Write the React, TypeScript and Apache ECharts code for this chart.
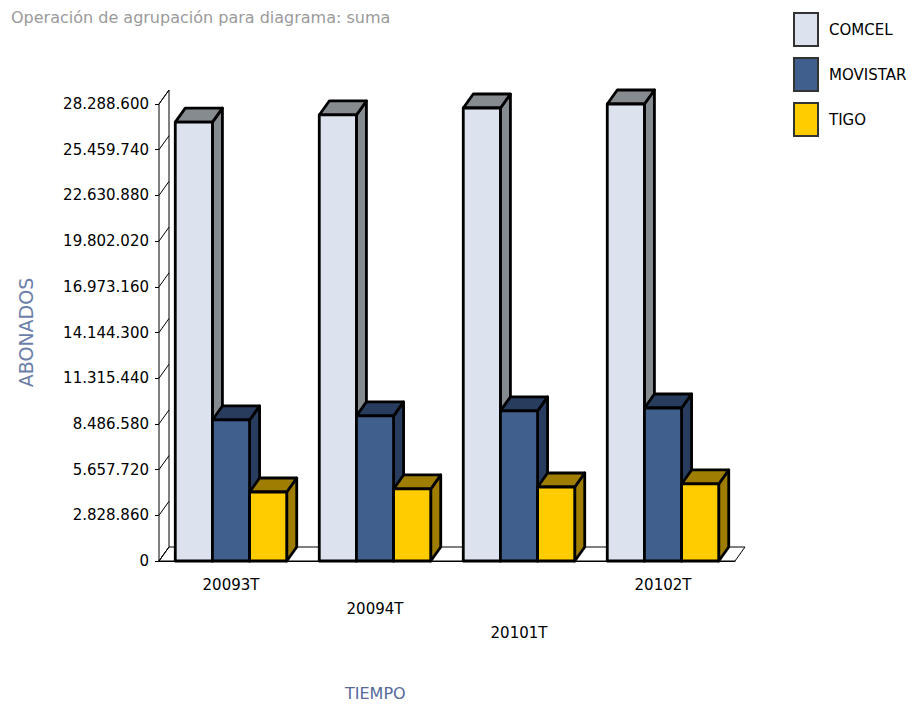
import React, { useEffect, useRef } from "react";
import * as echarts from "echarts";

// Quarterly subscriber totals per operator
const periods = ["20093T", "20094T", "20101T", "20102T"];
const comcel = [27170000, 27610000, 28040000, 28288600];
const movistar = [8730000, 8980000, 9290000, 9470000];
const tigo = [4270000, 4460000, 4580000, 4770000];

const seriesNames = ["COMCEL", "MOVISTAR", "TIGO"];
const frontColors = ["#dce3ee", "#405f8d", "#ffcc00"];
const shadeColors = ["#868b90", "#283d5e", "#9e7d00"];

const yTicks = [
  0, 2828860, 5657720, 8486580, 11315440, 14144300, 16973160, 19802020,
  22630880, 25459740, 28288600,
];
const yMax = 28288600;
const yStep = 2828860;

const FONT = "'DejaVu Sans', Verdana, sans-serif";
const DX = 10; // depth offset to the right
const DY = 14; // depth offset upwards
const BAR_RATIO = 0.258;

const thousands = (v: number) =>
  String(Math.round(v)).replace(/\B(?=(\d{3})+(?!\d))/g, ".");

const makeBarRenderer =
  (slot: number, front: string, shade: string) => (params: any, api: any) => {
    const ci = api.value(0);
    const v = api.value(1);
    const base = api.coord([ci, 0]);
    const top = api.coord([ci, v]);
    const band = api.size([1, 0])[0];
    const w = band * BAR_RATIO;
    const x0 = base[0] - 1.5 * w + slot * w;
    const x1 = x0 + w;
    const yb = base[1];
    const yt = top[1];
    const edge = { stroke: "#000", lineWidth: 2.8, lineJoin: "round" };
    return {
      type: "group",
      children: [
        {
          type: "polygon",
          shape: { points: [[x1, yt], [x1 + DX, yt - DY], [x1 + DX, yb - DY], [x1, yb]] },
          style: { fill: shade, ...edge },
        },
        {
          type: "polygon",
          shape: { points: [[x0, yt], [x1, yt], [x1 + DX, yt - DY], [x0 + DX, yt - DY]] },
          style: { fill: shade, ...edge },
        },
        {
          type: "rect",
          shape: { x: x0, y: yt, width: w, height: yb - yt },
          style: { fill: front, ...edge },
        },
      ],
    };
  };

const renderWalls = (params: any, api: any) => {
  const cs = params.coordSys;
  const yTop = cs.y;
  const yb = cs.y + cs.height;
  const xl = cs.x;
  const xr = cs.x + cs.width;
  const y = api.coord([0, api.value(1)])[1];
  const thin = { stroke: "#000", lineWidth: 1 };
  const children: any[] = [];
  if (params.dataIndex === 0) {
    children.push(
      {
        type: "polygon",
        shape: { points: [[xl, yb], [xl, yTop], [xl + DX, yTop - DY], [xl + DX, yb - DY]] },
        style: { fill: "#fff", ...thin },
      },
      {
        type: "polygon",
        shape: { points: [[xl, yb], [xr, yb], [xr + DX, yb - DY], [xl + DX, yb - DY]] },
        style: { fill: "#fff", ...thin },
      }
    );
  }
  children.push({
    type: "line",
    shape: { x1: xl, y1: y, x2: xl + DX, y2: y - DY },
    style: thin,
  });
  return { type: "group", children };
};

export default function App() {
  const ref = useRef<HTMLDivElement>(null);

  useEffect(() => {
    if (!ref.current) return;
    const chart = echarts.init(ref.current, undefined, { renderer: "svg" });
    const valueSets = [comcel, movistar, tigo];

    chart.setOption({
      animation: false,
      backgroundColor: "#fff",
      textStyle: { fontFamily: FONT },
      title: [
        {
          text: "Operación de agrupación para diagrama: suma",
          left: 11,
          top: 9,
          padding: 0,
          textStyle: { fontFamily: FONT, fontSize: 16, fontWeight: "normal", color: "#9a9a9a" },
        },
        {
          text: "TIEMPO",
          left: 345,
          top: 685,
          padding: 0,
          textStyle: { fontFamily: FONT, fontSize: 16, fontWeight: "normal", color: "#56699a" },
        },
      ],
      legend: {
        orient: "vertical",
        left: 793,
        top: 12,
        padding: 0,
        itemWidth: 24,
        itemHeight: 33,
        itemGap: 10,
        icon: "rect",
        textStyle: { fontFamily: FONT, fontSize: 15, color: "#000", padding: [0, 0, 0, 6] },
        data: seriesNames.map((name, i) => ({
          name,
          itemStyle: { color: frontColors[i], borderColor: "#333", borderWidth: 2 },
        })),
      },
      grid: { left: 159, right: 179, top: 104, bottom: 143 },
      xAxis: {
        type: "category",
        data: periods,
        axisLine: { lineStyle: { color: "#000", width: 1 } },
        axisTick: { alignWithLabel: true, length: 5, lineStyle: { color: "#000" } },
        axisLabel: {
          interval: 0,
          margin: 12,
          color: "#000",
          fontFamily: FONT,
          fontSize: 15,
          lineHeight: 24,
          verticalAlign: "top",
          formatter: (v: string, i: number) => "\n".repeat(i % 3) + v,
        },
      },
      yAxis: {
        type: "value",
        min: 0,
        max: yMax,
        interval: yStep,
        name: "ABONADOS",
        nameLocation: "middle",
        nameRotate: 90,
        nameGap: 124,
        nameTextStyle: { fontFamily: FONT, fontSize: 19, color: "#6b7ea8" },
        axisLine: { show: true, lineStyle: { color: "#000", width: 1 } },
        axisTick: { show: true, length: 4, lineStyle: { color: "#000" } },
        splitLine: { show: false },
        axisLabel: {
          margin: 10,
          color: "#000",
          fontFamily: FONT,
          fontSize: 15,
          formatter: (v: number) => thousands(v),
        },
      },
      series: [
        {
          name: "walls",
          type: "custom",
          silent: true,
          renderItem: renderWalls,
          encode: { x: 0, y: 1 },
          data: yTicks.map((v) => [0, v]),
          z: 1,
        },
        ...seriesNames.map((name, s) => ({
          name,
          type: "custom",
          renderItem: makeBarRenderer(s, frontColors[s], shadeColors[s]),
          encode: { x: 0, y: 1 },
          itemStyle: { color: frontColors[s] },
          data: valueSets[s].map((v, i) => [i, v]),
          z: 2,
        })),
      ],
    });

    return () => chart.dispose();
  }, []);

  return (
    <div
      ref={ref}
      style={{ position: "fixed", left: 0, top: 0, width: 914, height: 704 }}
    />
  );
}
